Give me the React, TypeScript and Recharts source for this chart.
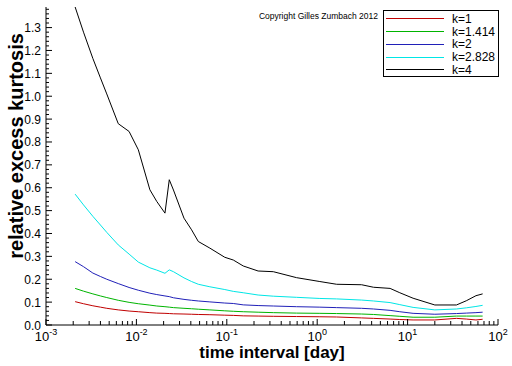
import { CartesianGrid, Customized, Line, LineChart, XAxis, YAxis } from "recharts";

// time interval in days (log axis)
const days = [
  0.0021, 0.0026, 0.0033, 0.004, 0.0047, 0.0063, 0.0083, 0.0105, 0.0141, 0.0168,
  0.0207, 0.0231, 0.0257, 0.0336, 0.0408, 0.0484, 0.065, 0.095, 0.118, 0.152,
  0.222, 0.327, 0.59, 1.07, 1.64, 3.1, 4.2, 6.4, 8.2, 11.5,
  20, 34.7, 44.6, 57, 67.6,
];

const k1 = [
  0.102, 0.093, 0.084, 0.078, 0.073, 0.066, 0.061, 0.058, 0.054, 0.052,
  0.051, 0.05, 0.049, 0.048, 0.047, 0.046, 0.045, 0.043, 0.042, 0.04,
  0.039, 0.038, 0.037, 0.036, 0.035, 0.031, 0.029, 0.026, 0.024, 0.022,
  0.022, 0.029, 0.026, 0.022, 0.025,
];
const k1414 = [
  0.16, 0.148, 0.136, 0.127, 0.12, 0.108, 0.099, 0.093, 0.087, 0.083,
  0.08, 0.078, 0.076, 0.073, 0.071, 0.069, 0.066, 0.062, 0.06, 0.058,
  0.056, 0.054, 0.052, 0.051, 0.05, 0.048, 0.046, 0.041, 0.038, 0.034,
  0.034, 0.039, 0.039, 0.039, 0.039,
];
const k2 = [
  0.277, 0.255, 0.227, 0.212, 0.2, 0.181, 0.164, 0.152, 0.139, 0.133,
  0.127, 0.124, 0.119, 0.112, 0.108, 0.105, 0.101, 0.096, 0.094, 0.088,
  0.085, 0.083, 0.08, 0.078, 0.076, 0.073, 0.07, 0.064, 0.058, 0.051,
  0.047, 0.05, 0.052, 0.054, 0.056,
];
const k2828 = [
  0.572, 0.525, 0.475, 0.437, 0.405, 0.35, 0.31, 0.275, 0.25, 0.24,
  0.226, 0.241, 0.233, 0.206, 0.19, 0.178, 0.167, 0.155, 0.147, 0.141,
  0.131, 0.126, 0.121, 0.116, 0.114, 0.109, 0.105, 0.098, 0.089, 0.077,
  0.066, 0.07, 0.075, 0.081, 0.086,
];
const k4 = [
  1.39, 1.28, 1.165, 1.08, 1.01, 0.88, 0.846, 0.766, 0.591, 0.54,
  0.489, 0.635, 0.59, 0.467, 0.416, 0.365, 0.336, 0.296, 0.284, 0.258,
  0.236, 0.233, 0.207, 0.19, 0.178, 0.176, 0.165, 0.16, 0.141, 0.117,
  0.0875, 0.0875, 0.106, 0.128, 0.136,
];

const series = [
  { key: "k1", name: "k=1", color: "#c00000", values: k1 },
  { key: "k1414", name: "k=1.414", color: "#00b400", values: k1414 },
  { key: "k2", name: "k=2", color: "#2020b8", values: k2 },
  { key: "k2828", name: "k=2.828", color: "#00e6e6", values: k2828 },
  { key: "k4", name: "k=4", color: "#000000", values: k4 },
];

const xMajor = [0.001, 0.01, 0.1, 1, 10, 100];
const xExp = ["-3", "-2", "-1", "0", "1", "2"];
const xMinor = xMajor.slice(0, -1).flatMap((d) => [2, 3, 4, 5, 6, 7, 8, 9].map((m) => m * d));
const yTicks = Array.from({ length: 70 }, (_, i) => +(i * 0.02).toFixed(2));

const data = days.map((t, i) => {
  const row: Record<string, number> = { t };
  series.forEach((s) => (row[s.key] = s.values[i]));
  return row;
});

const FONT = "'Liberation Sans', Arial, Helvetica, sans-serif";

function XTick({ x, y, payload }: any) {
  const v = payload.value;
  const idx = xMajor.findIndex((m) => Math.abs(m - v) < m * 1e-6);
  const major = idx >= 0;
  return (
    <g>
      <line x1={x} x2={x} y1={y} y2={y - (major ? 6 : 4)} stroke="#000" />
      {major && (
        <text x={x} y={y + 16} textAnchor="middle" fontSize={13} fontFamily={FONT} fill="#000">
          10
          <tspan dy={-6} fontSize={9}>
            {xExp[idx]}
          </tspan>
        </text>
      )}
    </g>
  );
}

function YTick({ x, y, payload }: any) {
  const v = payload.value;
  const major = Math.round(v * 100) % 10 === 0;
  return (
    <g>
      <line x1={x} x2={x + (major ? 6 : 3)} y1={y} y2={y} stroke="#000" />
      {major && (
        <text x={x - 5} y={y + 4.5} textAnchor="end" fontSize={12} fontFamily={FONT} fill="#000">
          {v.toFixed(1)}
        </text>
      )}
    </g>
  );
}

function Extras() {
  return (
    <g fontFamily={FONT} fill="#000">
      <text x={378} y={19} textAnchor="end" fontSize={8.5}>
        Copyright Gilles Zumbach 2012
      </text>
      <text transform="translate(23,146) rotate(-90)" textAnchor="middle" fontSize={20} fontWeight="bold">
        relative excess kurtosis
      </text>
    </g>
  );
}

export default function App() {
  return (
    <div style={{ position: "absolute", left: 0, top: 0, width: 512, height: 366, background: "#fff" }}>
      <LineChart width={512} height={366} data={data} margin={{ top: 7, right: 14, bottom: 0, left: 0 }}>
        <CartesianGrid stroke="none" />
        <XAxis
          dataKey="t"
          type="number"
          scale="log"
          domain={[0.001, 100]}
          allowDataOverflow
          ticks={[...xMajor, ...xMinor]}
          interval={0}
          tickSize={0}
          tickMargin={0}
          tickLine={false}
          axisLine={{ stroke: "#000" }}
          tick={<XTick />}
          height={41}
          label={{
            value: "time interval [day]",
            position: "insideBottom",
            offset: 8,
            fill: "#000",
            fontSize: 17,
            fontWeight: "bold",
            fontFamily: FONT,
          }}
        />
        <YAxis
          type="number"
          domain={[0, 1.39]}
          allowDataOverflow
          ticks={yTicks}
          interval={0}
          width={46}
          tickSize={0}
          tickMargin={0}
          tickLine={false}
          axisLine={{ stroke: "#000" }}
          tick={<YTick />}
        />
        {series.map((s) => (
          <Line
            key={s.key}
            dataKey={s.key}
            name={s.name}
            stroke={s.color}
            strokeWidth={1}
            dot={false}
            type="linear"
            isAnimationActive={false}
          />
        ))}
        <Customized component={<Extras />} />
      </LineChart>
      <div
        style={{
          position: "absolute",
          left: 383,
          top: 10,
          width: 116,
          height: 67,
          boxSizing: "border-box",
          border: "1px solid #000",
          background: "#fff",
          paddingTop: 1.5,
          fontFamily: FONT,
          fontSize: 12,
        }}
      >
        {series.map((s) => (
          <div key={s.key} style={{ display: "flex", alignItems: "center", height: 12.75 }}>
            <span style={{ marginLeft: 2, width: 58, height: 0, borderTop: `1px solid ${s.color}` }} />
            <span style={{ marginLeft: 8, lineHeight: "12px" }}>{s.name}</span>
          </div>
        ))}
      </div>
    </div>
  );
}
